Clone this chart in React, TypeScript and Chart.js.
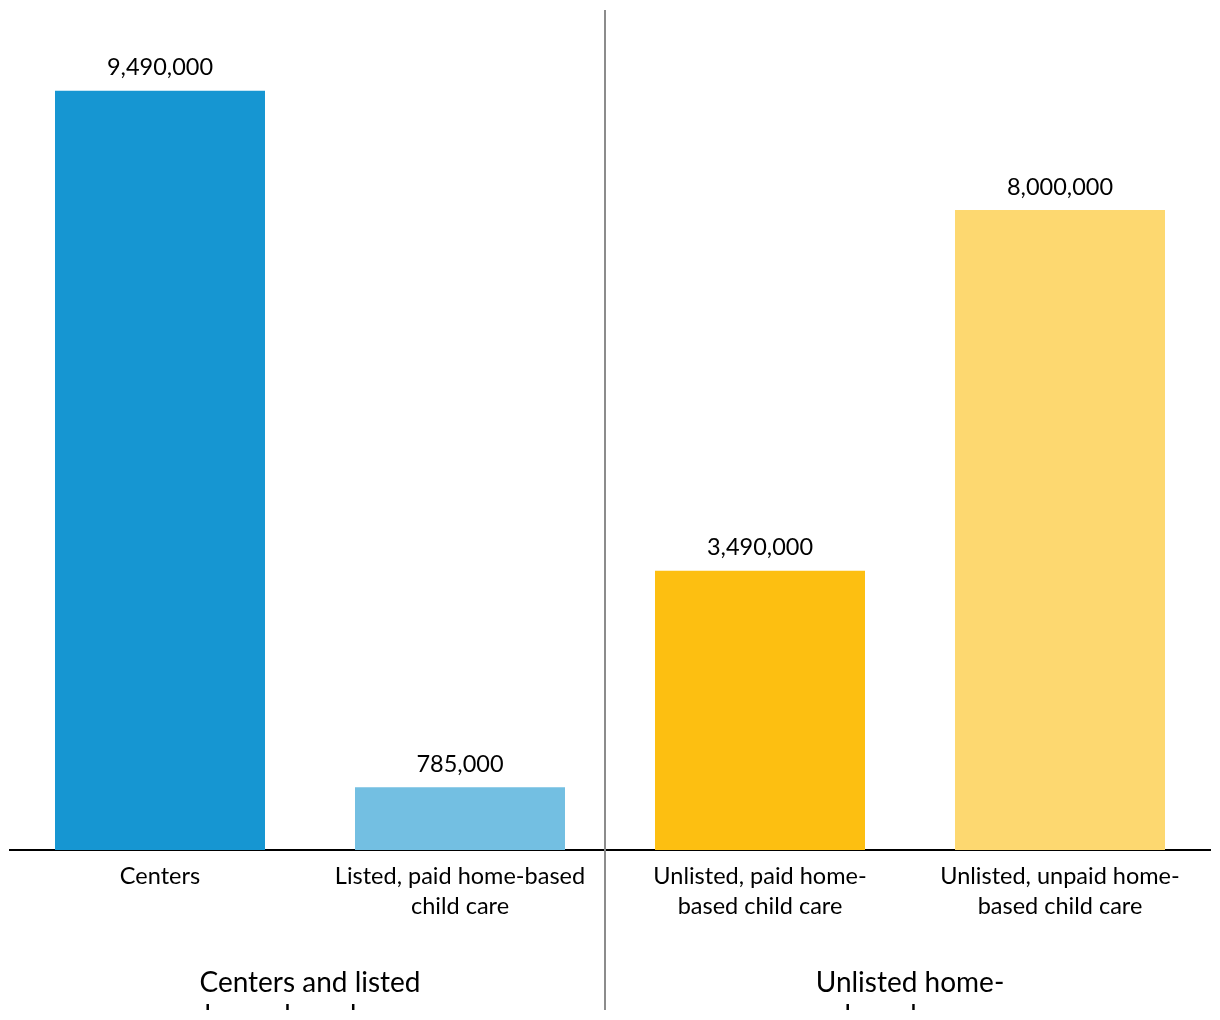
import React, { useEffect, useRef } from "react";
import { Chart, registerables } from "chart.js";

Chart.register(...registerables);

const categories: string[][] = [
  ["Centers"],
  ["Listed, paid home-based", "child care"],
  ["Unlisted, paid home-", "based child care"],
  ["Unlisted, unpaid home-", "based child care"],
];
const values: number[] = [9490000, 785000, 3490000, 8000000];
const valueLabels: string[] = ["9,490,000", "785,000", "3,490,000", "8,000,000"];
const barColors: string[] = ["#1696d2", "#73bfe2", "#fdbf11", "#fdd870"];
const groupLabels: string[][] = [
  ["Centers and listed", "home-based care"],
  ["Unlisted home-", "based care"],
];
const yMax = 10500000;

const FONT = "Lato, 'Noto Sans', sans-serif";

const overlayPlugin = {
  id: "overlay",
  afterDatasetsDraw(chart: any) {
    const ctx = chart.ctx;
    const meta = chart.getDatasetMeta(0);
    ctx.save();
    ctx.fillStyle = "#000";
    ctx.font = `23.5px ${FONT}`;
    ctx.textAlign = "center";
    ctx.textBaseline = "middle";
    meta.data.forEach((bar: any, i: number) => {
      ctx.fillText(valueLabels[i], bar.x, bar.y - 23);
    });
    ctx.restore();
  },
  afterDraw(chart: any) {
    const ctx = chart.ctx;
    const xs = chart.scales.x;
    const area = chart.chartArea;
    const mid = (xs.getPixelForValue(1) + xs.getPixelForValue(2)) / 2;
    const divX = mid - 5;
    ctx.save();
    ctx.strokeStyle = "#8c8c8c";
    ctx.lineWidth = 2;
    ctx.beginPath();
    ctx.moveTo(divX, area.top);
    ctx.lineTo(divX, chart.height);
    ctx.stroke();
    ctx.fillStyle = "#000";
    ctx.font = `28px ${FONT}`;
    ctx.textAlign = "center";
    ctx.textBaseline = "middle";
    const groupCenters = [(area.left + mid) / 2, (area.right + mid) / 2];
    groupLabels.forEach((lines, g) => {
      lines.forEach((line, j) => {
        ctx.fillText(line, groupCenters[g], area.bottom + 133 + j * 33);
      });
    });
    ctx.restore();
  },
};

export default function App() {
  const ref = useRef<HTMLCanvasElement>(null);
  useEffect(() => {
    if (!ref.current) return;
    const chart = new Chart(ref.current, {
      type: "bar",
      data: {
        labels: categories,
        datasets: [
          {
            data: values,
            backgroundColor: barColors,
            barPercentage: 0.7,
            categoryPercentage: 1,
          },
        ],
      },
      options: {
        animation: false,
        responsive: false,
        maintainAspectRatio: false,
        layout: { padding: { top: 2, left: 2, right: 2, bottom: 0 } },
        plugins: {
          legend: { display: false },
          tooltip: { enabled: false },
        },
        scales: {
          x: {
            grid: { display: false, drawTicks: false },
            border: { display: true, color: "#000", width: 2 },
            ticks: {
              color: "#000",
              font: { family: FONT, size: 23.5, lineHeight: 30 / 23.5 },
              padding: 11,
              maxRotation: 0,
              autoSkip: false,
            },
            afterFit: (scale: any) => {
              scale.height = 160;
            },
          },
          y: {
            display: false,
            min: 0,
            max: yMax,
          },
        },
      },
      plugins: [overlayPlugin],
    });
    return () => chart.destroy();
  }, []);
  return (
    <div style={{ width: 1204, height: 1002 }}>
      <canvas ref={ref} width={1204} height={1002} style={{ display: "block", width: 1204, height: 1002 }} />
    </div>
  );
}
